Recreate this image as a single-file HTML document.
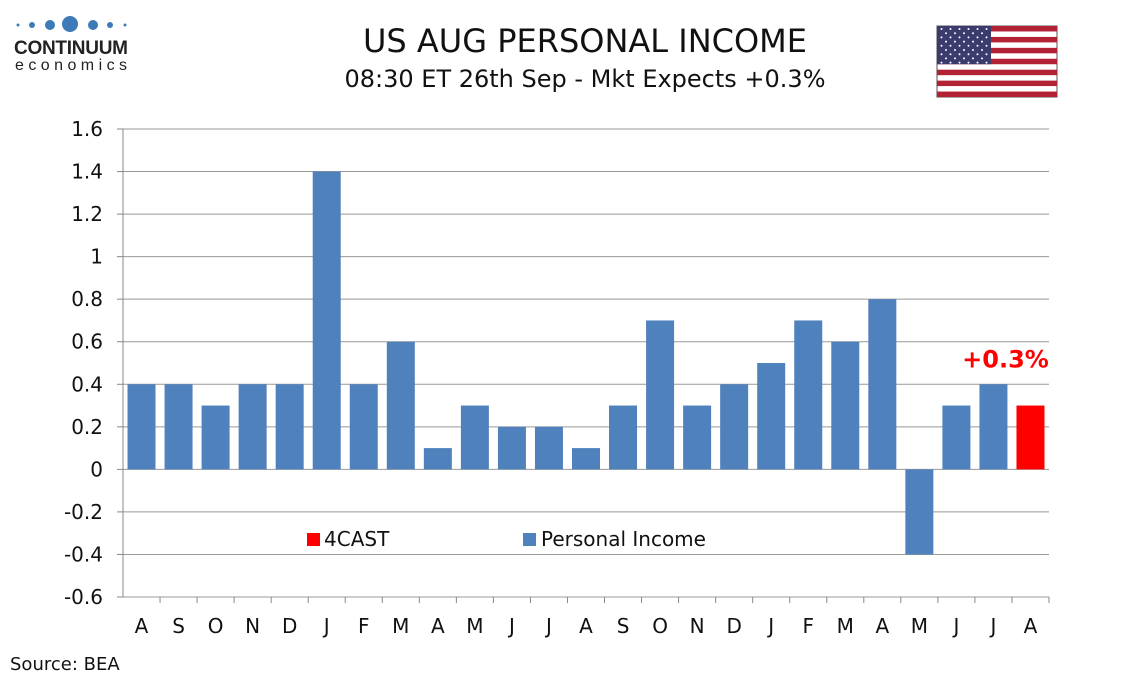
<!DOCTYPE html>
<html><head><meta charset="utf-8"><style>
body{margin:0;background:#fff;font-family:"Liberation Sans","DejaVu Sans",sans-serif}
svg text{font-family:"DejaVu Sans","Liberation Sans",sans-serif}
</style></head><body>
<svg id="c" width="1134" height="680" xmlns="http://www.w3.org/2000/svg">
<g>
<circle cx="18" cy="25" r="1.5" fill="#3d7ab8"/><circle cx="32" cy="25" r="3" fill="#3d7ab8"/><circle cx="50" cy="25" r="5" fill="#3d7ab8"/><circle cx="70" cy="24" r="8" fill="#3d7ab8"/><circle cx="93" cy="25" r="5" fill="#3d7ab8"/><circle cx="110" cy="25" r="3" fill="#3d7ab8"/><circle cx="125" cy="25" r="1.5" fill="#3d7ab8"/>
<text x="14" y="54" font-size="19" font-weight="bold" fill="#222" textLength="114" style="font-family:'Liberation Sans',sans-serif">CONTINUUM</text>
<text x="15" y="70" font-size="16" fill="#222" textLength="112" style="font-family:'Liberation Sans',sans-serif">economics</text>
</g>
<text x="585" y="52" font-size="32" text-anchor="middle" fill="#111">US AUG PERSONAL INCOME</text>
<text x="585" y="87" font-size="24" text-anchor="middle" fill="#111">08:30 ET 26th Sep - Mkt Expects +0.3%</text>
<g id="flag"></g>
<g id="grid"></g><g id="bars"></g><g id="axes"></g>
<g>
<rect x="307" y="533" width="13" height="13" fill="#ff0000"/><text x="324" y="546" font-size="20" fill="#111">4CAST</text>
<rect x="523" y="533" width="13" height="13" fill="#4f81bd"/><text x="541" y="546" font-size="20" fill="#111">Personal Income</text>
</g>
<text x="10" y="670" font-size="18" fill="#111">Source: BEA</text>
</svg>
<script>
const categories=["A","S","O","N","D","J","F","M","A","M","J","J","A","S","O","N","D","J","F","M","A","M","J","J","A"];
const personalIncome=[0.4,0.4,0.3,0.4,0.4,1.4,0.4,0.6,0.1,0.3,0.2,0.2,0.1,0.3,0.7,0.3,0.4,0.5,0.7,0.6,0.8,-0.4,0.3,0.4,null];
const forecast=[null,null,null,null,null,null,null,null,null,null,null,null,null,null,null,null,null,null,null,null,null,null,null,null,0.3];
const yTicks=[1.6,1.4,1.2,1,0.8,0.6,0.4,0.2,0,-0.2,-0.4,-0.6];
const forecastLabel="+0.3%";
const NS="http://www.w3.org/2000/svg";
const L=123,R=1049,T=129,B=597,yMax=1.6,yMin=-0.6;
const y=v=>T+(yMax-v)/(yMax-yMin)*(B-T);
const bw=(R-L)/categories.length;
const xc=i=>L+bw*(i+0.5);
function mk(tag,attrs,parent,txt){const e=document.createElementNS(NS,tag);for(const k in attrs)e.setAttribute(k,attrs[k]);if(txt!==undefined)e.textContent=txt;document.getElementById(parent).appendChild(e);return e;}
yTicks.forEach(v=>{
 const g=mk('line',{x1:L,x2:R,y1:y(v),y2:y(v),stroke:'#999','stroke-width':1},'grid');
 
 
 mk('line',{x1:L-6,x2:L,y1:y(v),y2:y(v),stroke:'#888'},'axes');
 const t=mk('text',{x:L-20,y:y(v)+7,'font-size':20,'text-anchor':'end',fill:'#111'},'axes',String(v));
 
 
});
mk('line',{x1:L,x2:L,y1:T,y2:B,stroke:'#888'},'axes');
categories.forEach((c,i)=>{
 mk('line',{x1:L+bw*(i+1),x2:L+bw*(i+1),y1:B,y2:B+6,stroke:'#888'},'axes');
 const t=mk('text',{x:xc(i),y:B+36,'font-size':20,'text-anchor':'middle',fill:'#111'},'axes',c);
 
 
 [[personalIncome[i],'#4f81bd','bar-personal-income'],[forecast[i],'#ff0000','bar-4cast']].forEach(([v,col,nm])=>{
  if(v==null)return;
  const r=mk('rect',{x:xc(i)-14,width:28,y:Math.min(y(v),y(0)),height:Math.abs(y(v)-y(0)),fill:col},'bars');
  
  
  if(nm==='bar-4cast'){
   const lb=mk('text',{x:xc(i)-25,y:y(v)-38,'font-size':24,'font-weight':'bold','text-anchor':'middle',fill:'#ff0000'},'bars',forecastLabel);
   
   
  }
 });
});
// flag
const fx=937,fy=26,fw=120,fh=71,sh=fh/13;
mk('rect',{x:fx,y:fy,width:fw,height:fh,fill:'#fff',stroke:'#555'},'flag');
for(let s=0;s<13;s+=2)mk('rect',{x:fx,y:fy+s*sh,width:fw,height:sh,fill:'#b22234'},'flag');
mk('rect',{x:fx,y:fy,width:54,height:sh*7,fill:'#3c3b6e'},'flag');
for(let r=0;r<9;r++)for(let k=0;k<(r%2?5:6);k++)mk('circle',{cx:fx+4.5+k*9+(r%2?4.5:0),cy:fy+3+r*4.2,r:1,fill:'#fff'},'flag');
</script>
</body></html>
